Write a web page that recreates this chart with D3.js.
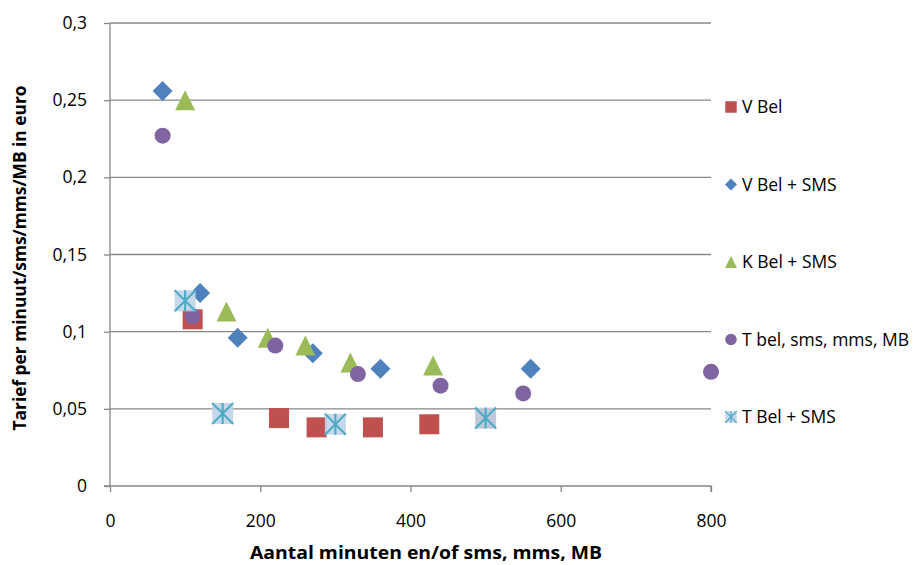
<!DOCTYPE html>
<html>
<head>
<meta charset="utf-8">
<script src="https://cdn.jsdelivr.net/npm/d3@7"></script>
<style>
  body { margin: 0; background: #fff; }
  svg { display: block; font-family: "Open Sans", "Noto Sans", sans-serif; }
</style>
</head>
<body>
<svg id="chart" width="920" height="565"></svg>
<script>
// series data: [minutes, tariff]
const vBel = [[110, 0.108], [225, 0.044], [275, 0.038], [350, 0.038], [425, 0.040], [500, 0.044]];
const vBelSms = [[70, 0.256], [120, 0.125], [170, 0.096], [270, 0.086], [360, 0.076], [560, 0.076]];
const kBelSms = [[100, 0.250], [155, 0.113], [210, 0.096], [260, 0.091], [320, 0.080], [430, 0.078]];
const tBelAll = [[70, 0.227], [110, 0.110], [220, 0.091], [330, 0.0725], [440, 0.065], [550, 0.060], [800, 0.074]];
const tBelSms = [[100, 0.120], [150, 0.047], [300, 0.040], [500, 0.044]];

const seriesNames = ['V Bel', 'V Bel + SMS', 'K Bel + SMS', 'T bel, sms, mms, MB', 'T Bel + SMS'];
const xTicks = [0, 200, 400, 600, 800];
const yTicks = [0, 0.05, 0.1, 0.15, 0.2, 0.25, 0.3];

const svg = d3.select('#chart');
const margin = { left: 110, right: 209, top: 23, bottom: 79 };
const width = 920, height = 565;

const x = d3.scaleLinear().domain([0, 800]).range([margin.left, width - margin.right]);
const y = d3.scaleLinear().domain([0, 0.3]).range([height - margin.bottom, margin.top]);

const gridColor = '#878787';
const fmt = (d) => d3.format('~g')(d).replace('.', ',');

// pattern for the star marker fill
const defs = svg.append('defs');
const pat = defs.append('pattern')
  .attr('id', 'dots')
  .attr('width', 3)
  .attr('height', 3)
  .attr('patternUnits', 'userSpaceOnUse');
pat.append('rect').attr('width', 3).attr('height', 3).attr('fill', '#dbe6f2');
pat.append('rect').attr('width', 1.5).attr('height', 1.5).attr('fill', '#9ebbdc');
pat.append('rect').attr('x', 1.5).attr('y', 1.5).attr('width', 1.5).attr('height', 1.5).attr('fill', '#aec6e2');

// horizontal gridlines
svg.append('g')
  .selectAll('line')
  .data(yTicks.slice(1))
  .join('line')
  .attr('x1', x(0))
  .attr('x2', x(800))
  .attr('y1', (d) => y(d))
  .attr('y2', (d) => y(d))
  .attr('stroke', gridColor)
  .attr('stroke-width', 1.3);

// y axis
const yAxis = svg.append('g')
  .attr('transform', `translate(${x(0)},0)`)
  .call(d3.axisLeft(y).tickValues(yTicks).tickSize(6).tickPadding(17).tickFormat(fmt));

// x axis
const xAxis = svg.append('g')
  .attr('transform', `translate(0,${y(0)})`)
  .call(d3.axisBottom(x).tickValues(xTicks).tickSize(6).tickPadding(23).tickFormat(fmt));

[yAxis, xAxis].forEach((ax) => {
  ax.select('.domain').attr('stroke', gridColor).attr('stroke-width', 1.3);
  ax.selectAll('.tick line').attr('stroke', gridColor).attr('stroke-width', 1.3);
  ax.selectAll('.tick text')
    .attr('fill', '#000')
    .style('font-size', '17.5px')
    .style('font-family', '"Open Sans", sans-serif');
});
yAxis.select('.domain').attr('d', `M-6,${y(0)}H0V${y(0.3)}`);
xAxis.select('.domain').attr('d', `M${x(0)},0H${x(800)}V6`);

// marker drawers
function drawSquare(g, s) {
  g.append('rect').attr('x', -s / 2).attr('y', -s / 2).attr('width', s).attr('height', s)
    .attr('fill', '#c0504d');
}
function drawDiamond(g, s) {
  const h = s / 2;
  g.append('path').attr('d', `M0,${-h}L${h},0L0,${h}L${-h},0Z`).attr('fill', '#4f81bd');
}
function drawTriangle(g, s) {
  const h = s / 2;
  g.append('path').attr('d', `M0,${-h}L${h},${h}L${-h},${h}Z`).attr('fill', '#9bbb59');
}
function drawCircle(g, s) {
  g.append('circle').attr('r', s / 2).attr('fill', '#8064a2');
}
function drawStar(g, s) {
  const h = s / 2;
  g.append('rect').attr('x', -h).attr('y', -h).attr('width', s).attr('height', s)
    .attr('fill', 'url(#dots)').attr('fill-opacity', 0.9);
  g.append('path')
    .attr('d', `M0,${-h}V${h}M${-h},${-h}L${h},${h}M${h},${-h}L${-h},${h}`)
    .attr('stroke', '#4bacc6')
    .attr('stroke-width', Math.max(1.2, s / 10))
    .attr('fill', 'none');
}

const series = [
  { name: seriesNames[0], data: vBel, draw: drawSquare, size: 20, legend: 11.5 },
  { name: seriesNames[1], data: vBelSms, draw: drawDiamond, size: 20, legend: 12 },
  { name: seriesNames[2], data: kBelSms, draw: drawTriangle, size: 20, legend: 12 },
  { name: seriesNames[3], data: tBelAll, draw: drawCircle, size: 16, legend: 11.5 },
  { name: seriesNames[4], data: tBelSms, draw: drawStar, size: 21, legend: 11.5 },
];

// points
series.forEach((s) => {
  svg.append('g')
    .selectAll('g')
    .data(s.data)
    .join('g')
    .attr('transform', (d) => `translate(${x(d[0])},${y(d[1])})`)
    .each(function () { s.draw(d3.select(this), s.size); });
});

// legend
const legend = svg.append('g').attr('transform', 'translate(731,107)');
series.forEach((s, i) => {
  const row = legend.append('g').attr('transform', `translate(0,${i * 77.5})`);
  s.draw(row, s.legend);
  row.append('text')
    .attr('x', 11)
    .attr('dy', '0.36em')
    .style('font-size', '17.5px')
    .text(s.name);
});

// axis titles
svg.append('text')
  .attr('x', 426)
  .attr('y', 559)
  .attr('text-anchor', 'middle')
  .attr('textLength', 352)
  .attr('lengthAdjust', 'spacingAndGlyphs')
  .style('font-size', '17.5px')
  .style('font-weight', 'bold')
  .text('Aantal minuten en/of sms, mms, MB');

svg.append('text')
  .attr('transform', 'translate(26,258) rotate(-90)')
  .attr('text-anchor', 'middle')
  .attr('textLength', 345)
  .attr('lengthAdjust', 'spacingAndGlyphs')
  .style('font-size', '17.5px')
  .style('font-weight', 'bold')
  .text('Tarief per minuut/sms/mms/MB in euro');
</script>
</body>
</html>
